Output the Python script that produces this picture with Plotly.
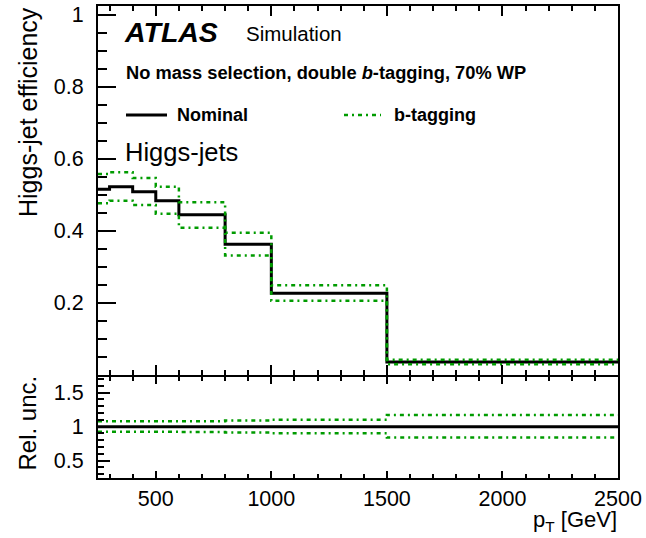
import plotly.graph_objects as go

# ---- data ----
pt_edges = [250, 300, 400, 500, 600, 800, 1000, 1500, 2500]
eff_nominal = [0.515, 0.522, 0.508, 0.483, 0.444, 0.362, 0.226, 0.035]
eff_btag_up = [0.557, 0.562, 0.546, 0.522, 0.479, 0.394, 0.248, 0.041]
eff_btag_down = [0.476, 0.483, 0.471, 0.447, 0.408, 0.331, 0.205, 0.029]
rel_nominal = [1, 1, 1, 1, 1, 1, 1, 1]
rel_btag_up = [1.08, 1.08, 1.08, 1.08, 1.08, 1.09, 1.10, 1.17]
rel_btag_down = [0.925, 0.925, 0.925, 0.925, 0.92, 0.915, 0.905, 0.84]

x_ticks = [500, 1000, 1500, 2000, 2500]
eff_ticks = [0.2, 0.4, 0.6, 0.8, 1.0]
eff_ticktext = ["0.2", "0.4", "0.6", "0.8", "1"]
rel_ticks = [0.5, 1.0, 1.5]
rel_ticktext = ["0.5", "1", "1.5"]

GREEN = "rgb(0,155,0)"
FONT = "Liberation Sans, Arial, Helvetica, sans-serif"
W, H = 646, 538
ML, MR, MT, MB = 98, 28, 6, 60
PW, PH = W - ML - MR, H - MT - MB


def px_x(p):
    return (p - ML) / PW


def px_y(p):
    return (H - MB - p) / PH


def step(vals):
    return list(vals) + [vals[-1]]


fig = go.Figure()
green_dash = "4px,4px,2px,4px"

# main panel
fig.add_trace(go.Scatter(x=pt_edges, y=step(eff_nominal), mode="lines", line_shape="hv",
                         line=dict(color="black", width=3), xaxis="x", yaxis="y", showlegend=False))
for v in (eff_btag_up, eff_btag_down):
    fig.add_trace(go.Scatter(x=pt_edges, y=step(v), mode="lines", line_shape="hv",
                             line=dict(color=GREEN, width=2.5, dash=green_dash),
                             xaxis="x", yaxis="y", showlegend=False))
# ratio panel
fig.add_trace(go.Scatter(x=pt_edges, y=step(rel_nominal), mode="lines", line_shape="hv",
                         line=dict(color="black", width=3), xaxis="x2", yaxis="y2", showlegend=False))
for v in (rel_btag_up, rel_btag_down):
    fig.add_trace(go.Scatter(x=pt_edges, y=step(v), mode="lines", line_shape="hv",
                             line=dict(color=GREEN, width=2.5, dash=green_dash),
                             xaxis="x2", yaxis="y2", showlegend=False))

main_bottom = px_y(375.3)
ratio_top = px_y(376.7)

axis_common = dict(showgrid=False, zeroline=False, showline=True, linecolor="black", linewidth=2,
                   ticks="inside", tickcolor="black", tickwidth=1.5, automargin=False,
                   tickfont=dict(family=FONT, size=21.5, color="black"))

fig.update_layout(
    width=W, height=H, margin=dict(l=ML, r=MR, t=MT, b=MB, autoexpand=False),
    plot_bgcolor="white", paper_bgcolor="white",
    font=dict(family=FONT, color="black"),
    xaxis=dict(**axis_common, domain=[0, 1], anchor="y", range=[250, 2500],
               tickvals=x_ticks, ticklen=10, showticklabels=False, mirror="allticks",
               minor=dict(tick0=0, dtick=100, ticklen=5, tickcolor="black", tickwidth=1.5, ticks="inside")),
    yaxis=dict(**axis_common, domain=[main_bottom, 1], anchor="x", range=[-0.002, 1.024],
               tickvals=eff_ticks, ticktext=eff_ticktext, ticklen=18, mirror=True,
               ticklabelstandoff=8,
               minor=dict(tick0=0, dtick=0.05, ticklen=9, tickcolor="black", tickwidth=1.5, ticks="inside")),
    xaxis2=dict(**axis_common, domain=[0, 1], anchor="y2", range=[250, 2500],
                tickvals=x_ticks, ticklen=7, mirror="allticks", ticklabelstandoff=0,
                minor=dict(tick0=0, dtick=100, ticklen=4, tickcolor="black", tickwidth=1.5, ticks="inside")),
    yaxis2=dict(**axis_common, domain=[0, ratio_top], anchor="x2", range=[0.245, 1.735],
                tickvals=rel_ticks, ticktext=rel_ticktext, ticklen=12, mirror=True,
                ticklabelstandoff=8,
                minor=dict(tick0=0, dtick=0.1, ticklen=6, tickcolor="black", tickwidth=1.5, ticks="inside")),
)

ann = []


def add_text(text, x, y, size, xanchor="left", yanchor="middle", angle=0, **kw):
    ann.append(dict(text=text, x=px_x(x), y=px_y(y), xref="paper", yref="paper",
                    xanchor=xanchor, yanchor=yanchor, showarrow=False, textangle=angle,
                    font=dict(family=FONT, size=size, color="black"), **kw))


add_text("<b><i>ATLAS</i></b>", 122, 32, 28.5)
add_text("Simulation", 244, 34, 20.5)
add_text("<b>No mass selection, double <i>b</i>-tagging, 70% WP</b>", 124, 73, 18.3)
add_text("<b>Nominal</b>", 175, 115, 18)
add_text("<b>b-tagging</b>", 392, 115, 18)
add_text("Higgs-jets", 123, 152, 25.5)
add_text("Higgs-jet efficiency", 28, 5, 25, xanchor="center", yanchor="top", angle=-90)
add_text("Rel. unc.", 27, 374, 24, xanchor="center", yanchor="top", angle=-90)
add_text("p<sub>T</sub> [GeV]", 619, 521, 22, xanchor="right")
fig.update_layout(annotations=ann)

# legend line samples (paper-positioned style keys)
fig.add_shape(type="line", xref="paper", yref="paper", x0=px_x(126), x1=px_x(167),
              y0=px_y(115), y1=px_y(115), line=dict(color="black", width=3))
fig.add_shape(type="line", xref="paper", yref="paper", x0=px_x(344), x1=px_x(381),
              y0=px_y(115), y1=px_y(115), line=dict(color=GREEN, width=2.5, dash=green_dash))

fig.write_html("out.html", config={"displayModeBar": False},
               post_script="document.body.style.margin='0';document.body.style.overflow='hidden';")
